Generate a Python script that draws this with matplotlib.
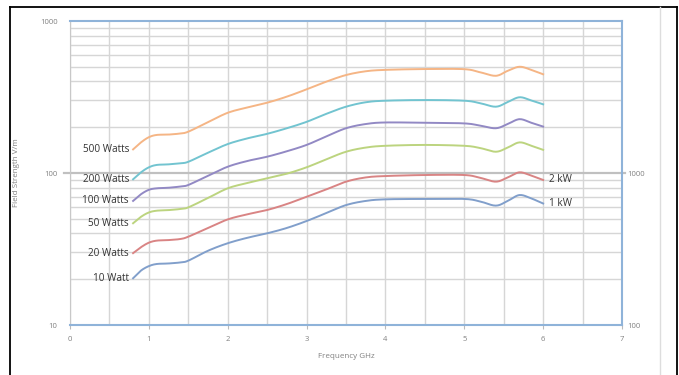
import numpy as np
import matplotlib
matplotlib.use("Agg")
import matplotlib.pyplot as plt
from matplotlib.ticker import FixedLocator, NullFormatter

# values (field strength V/m vs frequency GHz)
freq = [0.8, 0.9, 1.0, 1.1, 1.25, 1.4, 1.5, 1.75, 2.0, 2.25, 2.5, 2.75, 3.0,
        3.25, 3.5, 3.75, 4.0, 4.5, 5.0, 5.2, 5.4, 5.55, 5.7, 5.85, 6.0]

w10 = [20.3, 22.8, 24.4, 25.2, 25.4, 25.8, 26.5, 30.8, 34.5, 37.5, 40.1, 43.5, 48.3,
       54.5, 61.5, 65.5, 67.1, 67.5, 67.5, 65, 61, 65.5, 71.6, 68, 63]
w20 = [29.7, 32.5, 34.8, 35.9, 36.2, 36.8, 38.1, 43.5, 49.5, 53.5, 57.1, 62.5, 69.8,
       78, 87.7, 93.5, 95.5, 97, 97, 93, 87.7, 93.5, 101, 96, 90]
w50 = [46.7, 51.5, 55, 56.5, 57, 58, 59.4, 68.5, 79.3, 86, 92.3, 99, 109,
       123, 138, 147, 151, 153, 151, 146, 138, 147, 159, 151, 142]
w100 = [65.5, 72.5, 77.5, 79.3, 80, 81.5, 83.4, 96, 110, 120, 128, 139, 153,
        174, 197, 210, 215, 214, 212, 205, 197, 210, 226, 214, 202]
w200 = [90.9, 101, 109, 113, 114, 116, 118.5, 136, 155, 169, 181, 197, 217,
        245, 273, 292, 299, 302, 299, 288, 273, 293, 315, 300, 283]
w500 = [143, 159, 172, 178, 179, 182, 187, 216, 249, 270, 290, 318, 355,
        399, 441, 467, 477, 483, 482, 460, 436, 470, 500, 477, 446]

series = [
    ("500 Watts", w500, "#f5b585"),
    ("200 Watts", w200, "#72c4d0"),
    ("100 Watts", w100, "#9289c4"),
    ("50 Watts", w50, "#bcd47f"),
    ("20 Watts", w20, "#d98484"),
    ("10 Watt", w10, "#819fcb"),
]
right_labels = [("2 kW", w20), ("1 kW", w10)]


def smooth(x, y, n=12):
    # catmull-rom through the read points (like a "smoothed line" in a spreadsheet)
    x = np.asarray(x, float)
    y = np.log10(np.asarray(y, float))
    px = np.concatenate([[2 * x[0] - x[1]], x, [2 * x[-1] - x[-2]]])
    py = np.concatenate([[2 * y[0] - y[1]], y, [2 * y[-1] - y[-2]]])
    t = np.linspace(0, 1, n, endpoint=False)
    xs, ys = [], []
    for i in range(1, len(px) - 2):
        for p, out in ((px, xs), (py, ys)):
            p0, p1, p2, p3 = p[i - 1], p[i], p[i + 1], p[i + 2]
            out.extend(0.5 * (2 * p1 + (-p0 + p2) * t
                              + (2 * p0 - 5 * p1 + 4 * p2 - p3) * t ** 2
                              + (-p0 + 3 * p1 - 3 * p2 + p3) * t ** 3))
    xs.append(x[-1])
    ys.append(y[-1])
    return np.array(xs), 10 ** np.array(ys)


plt.rcParams["font.family"] = ["Open Sans", "DejaVu Sans"]

fig = plt.figure(figsize=(6.79, 3.75), dpi=100)
ax = fig.add_axes([70 / 679, 1 - 325 / 375, 552 / 679, 304 / 375])

ax.set_yscale("log")
ax.set_xlim(0, 7)
ax.set_ylim(10, 1000)

# grid
ax.xaxis.set_major_locator(FixedLocator(range(0, 8)))
ax.xaxis.set_minor_locator(FixedLocator(np.arange(0.5, 7, 1.0)))
ax.yaxis.set_major_locator(FixedLocator([10, 100, 1000]))
ax.yaxis.set_minor_locator(FixedLocator([20, 30, 40, 50, 60, 70, 80, 90,
                                         200, 300, 400, 500, 600, 700, 800, 900]))
ax.yaxis.set_minor_formatter(NullFormatter())
ax.grid(True, which="both", axis="x", color="#d6d6d6", lw=1)
ax.grid(True, which="minor", axis="y", color="#d6d6d6", lw=1)
ax.axhline(100, xmin=-0.01, xmax=1.005, color="#c0c0c0", lw=1.6, zorder=1, clip_on=False)
ax.set_axisbelow(True)

for name, vals, col in series:
    sx, sy = smooth(freq, vals)
    ax.plot(sx, sy, color=col, lw=1.4, zorder=3)
    ax.annotate(name, (freq[0], vals[0]), xytext=(-3, 0), textcoords="offset points",
                ha="right", va="center", fontsize=7.2, color="#333333")

for name, vals in right_labels:
    ax.annotate(name, (freq[-1], vals[-1]), xytext=(4, 0), textcoords="offset points",
                ha="left", va="center", fontsize=7.2, color="#333333")

for side in ["top", "bottom", "right"]:
    ax.spines[side].set_color("#8fb3d9")
    ax.spines[side].set_linewidth(1.5)
ax.spines["left"].set_color("#c8c8c8")

ax.tick_params(axis="x", which="major", length=3, color="#bbbbbb", labelsize=5.5,
               labelcolor="#808080", pad=5)
ax.tick_params(axis="x", which="minor", length=0)
ax.tick_params(axis="y", which="both", length=0, labelsize=5.5, labelcolor="#808080", pad=9)
ax.set_yticklabels(["10", "100", "1000"])

ax.set_xlabel("Frequency GHz", fontsize=5.8, color="#808080", labelpad=7)
ax.set_ylabel("Field Strength V/m", fontsize=5.8, color="#808080", labelpad=14)

ax2 = ax.twinx()
ax2.set_yscale("log")
ax2.set_ylim(100, 10000)
ax2.yaxis.set_major_locator(FixedLocator([100, 1000]))
ax2.yaxis.set_minor_locator(FixedLocator([]))
ax2.set_yticklabels(["100", "1000"])
ax2.tick_params(axis="y", length=0, labelsize=5.5, labelcolor="#808080", pad=4)
for s in ax2.spines.values():
    s.set_visible(False)

# outer frame
fig.add_artist(plt.Line2D([10 / 679, 10 / 679], [0, 1 - 7 / 375], color="black", lw=1.3))
fig.add_artist(plt.Line2D([10 / 679, 677 / 679], [1 - 7 / 375, 1 - 7 / 375], color="black", lw=1.3))
fig.add_artist(plt.Line2D([677 / 679, 677 / 679], [0, 1 - 7 / 375], color="black", lw=1.3))
fig.add_artist(plt.Line2D([660 / 679, 660 / 679], [0, 1 - 7 / 375], color="#dddddd", lw=1))

fig.savefig("out.png", dpi=100)
